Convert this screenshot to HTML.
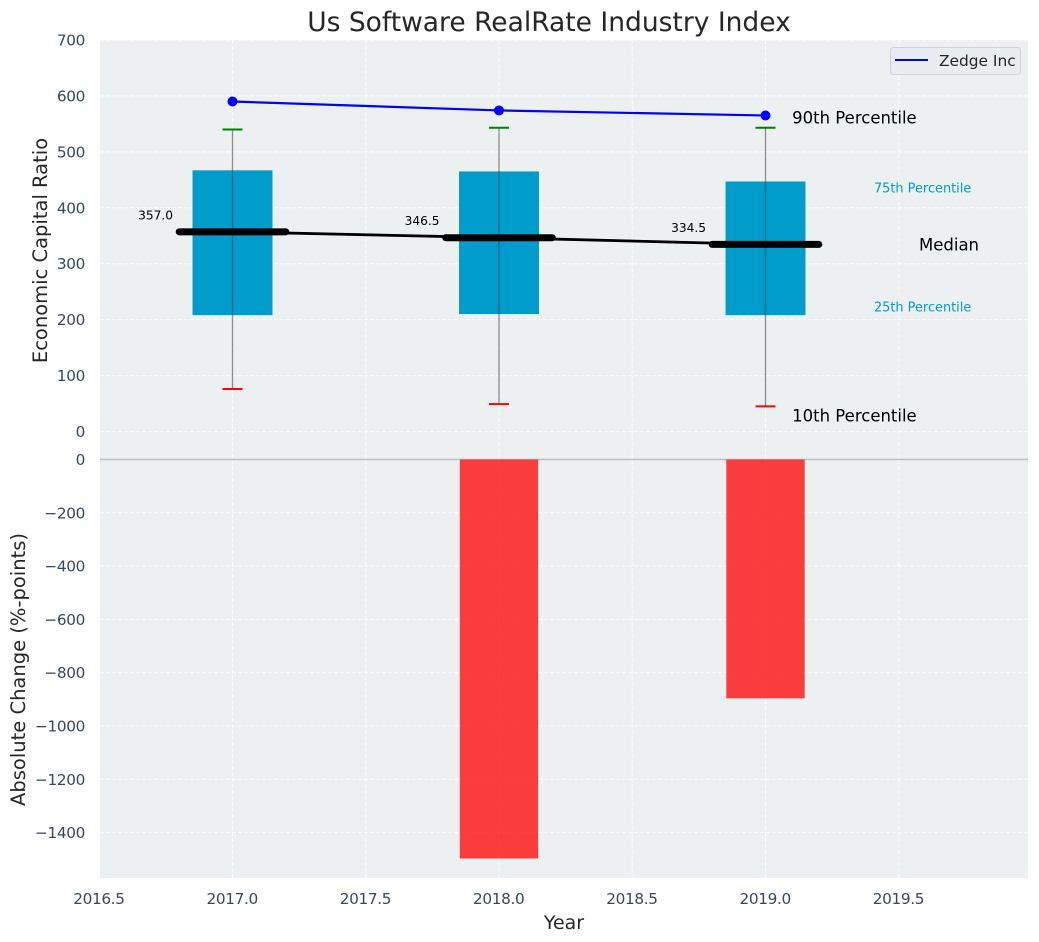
<!DOCTYPE html>
<html>
<head>
<meta charset="utf-8">
<title>Us Software RealRate Industry Index</title>
<style>
html,body{margin:0;padding:0;background:#fff;width:1039px;height:942px;overflow:hidden}
svg{display:block}
text{font-family:"DejaVu Sans","Liberation Sans",sans-serif}
.tick{letter-spacing:-0.35px}
</style>
</head>
<body>
<svg id="chart" width="1039" height="942" viewBox="0 0 1039 942" xmlns="http://www.w3.org/2000/svg"></svg>
<script>
const years = [2017, 2018, 2019];
const p90 = [540, 543, 543];
const p75 = [467, 465, 447];
const median = [357.0, 346.5, 334.5];
const p25 = [208, 210, 208];
const p10 = [76, 49, 45];
const company = [590, 574, 565];
const absoluteChange = [0, -1497, -896];
const xTicks = [2016.5, 2017, 2017.5, 2018, 2018.5, 2019, 2019.5];
const yTicksTop = [0, 100, 200, 300, 400, 500, 600, 700];
const yTicksBottom = [0, -200, -400, -600, -800, -1000, -1200, -1400];

const svg = document.getElementById('chart');
const NS = 'http://www.w3.org/2000/svg';
const X = v => 232.5 + (v - 2017) * 266.5;
const YT = v => 431.5 - v * 0.5593;
const YB = v => 459.5 - v * 0.2665;

function add(tag, attrs, name, txt) {
  const el = document.createElementNS(NS, tag);
  for (const k in attrs) el.setAttribute(k, attrs[k]);
  
  
  if (txt !== undefined) el.textContent = txt;
  svg.appendChild(el);
  return el;
}
const tickCol = '#34495e', darkCol = '#262626';
const fmtTick = v => String(v).replace('-', '\u2212');

add('rect', {x:100, y:40, width:928, height:838, fill:'#ecf0f1'}, 'plot-background');

yTicksTop.forEach(v => {
  add('line', {x1:100, x2:1028, y1:YT(v), y2:YT(v), stroke:'#fff', 'stroke-width':1, 'stroke-dasharray':'4 2', opacity:.85}, 'grid-line-top-y');
  add('text', {class:'tick', x:85, y:YT(v)+5.5, 'text-anchor':'end', 'font-size':15.3, fill:tickCol}, 'y-tick-top', fmtTick(v));
});
yTicksBottom.forEach(v => {
  if (v !== 0) add('line', {x1:100, x2:1028, y1:YB(v), y2:YB(v), stroke:'#fff', 'stroke-width':1, 'stroke-dasharray':'4 2', opacity:.85}, 'grid-line-bottom-y');
  add('text', {class:'tick', x:85, y:YB(v)+5.5, 'text-anchor':'end', 'font-size':15.3, fill:tickCol}, 'y-tick-bottom', fmtTick(v));
});
xTicks.forEach(v => {
  if (v > 2016.5) add('line', {x1:X(v), x2:X(v), y1:40, y2:878, stroke:'#fff', 'stroke-width':1, 'stroke-dasharray':'4 2', opacity:.85}, 'grid-line-x');
  add('text', {class:'tick', x:X(v)-0.3, y:904, 'text-anchor':'middle', 'font-size':15.3, fill:tickCol}, 'x-tick', v.toFixed(1));
});

add('line', {x1:100, x2:1028, y1:YB(0), y2:YB(0), stroke:'#bdbdbd', 'stroke-width':1.5}, 'zero-line');

/* lower panel bars */
years.forEach((y, i) => {
  const v = absoluteChange[i];
  add('rect', {x:X(y-0.147), y:YB(0), width:X(y+0.147)-X(y-0.147), height:YB(v)-YB(0), fill:'#ff0000', 'fill-opacity':.75}, 'change-bar-' + y);
});

/* interquartile boxes */
years.forEach((y, i) => {
  add('rect', {x:X(y-0.15), y:YT(p75[i]), width:X(y+0.15)-X(y-0.15), height:YT(p25[i])-YT(p75[i]), fill:'#009ccc'}, 'iqr-box-' + y);
});

/* whiskers and caps */
years.forEach((y, i) => {
  add('line', {x1:X(y), x2:X(y), y1:YT(p90[i]), y2:YT(p10[i]), stroke:'#2b3a42', 'stroke-opacity':.55, 'stroke-width':1.3}, 'whisker-' + y);
  add('line', {x1:X(y-0.0375), x2:X(y+0.0375), y1:YT(p90[i]), y2:YT(p90[i]), stroke:'#008000', 'stroke-width':2}, 'p90-cap-' + y);
  add('line', {x1:X(y-0.0375), x2:X(y+0.0375), y1:YT(p10[i]), y2:YT(p10[i]), stroke:'#ff0000', 'stroke-width':2}, 'p10-cap-' + y);
});

/* median line */
add('polyline', {points:years.map((y,i)=>X(y)+','+YT(median[i])).join(' '), fill:'none', stroke:'#000', 'stroke-width':2.8}, 'median-trend-line');
years.forEach((y, i) => {
  add('line', {x1:X(y-0.2), x2:X(y+0.2), y1:YT(median[i]), y2:YT(median[i]), stroke:'#000', 'stroke-width':7, 'stroke-linecap':'round'}, 'median-bar-' + y);
  add('text', {x:X(y)-59.5, y:YT(median[i])-12.5, 'text-anchor':'end', 'font-size':12.2, fill:'#000'}, 'median-value-' + y, median[i].toFixed(1));
});

/* company line */
add('polyline', {points:years.map((y,i)=>X(y)+','+YT(company[i])).join(' '), fill:'none', stroke:'#0000ff', 'stroke-width':2.2}, 'company-line');
years.forEach((y, i) => {
  add('circle', {cx:X(y), cy:YT(company[i]), r:5, fill:'#0000ff'}, 'company-point-' + y);
});

/* percentile annotations */
const last = years.length - 1;
add('text', {x:X(2019.1), y:YT(p90[last])-4.5, 'font-size':16.5, fill:'#000'}, 'label-90th-percentile', '90th Percentile');
add('text', {x:X(2019.407), y:YT(p75[last])+11, 'font-size':12.9, fill:'#009ccc'}, 'label-75th-percentile', '75th Percentile');
add('text', {x:X(2019.576), y:YT(median[last])+6, 'font-size':16.5, fill:'#000'}, 'label-median', 'Median');
add('text', {x:X(2019.407), y:YT(p25[last])-3.5, 'font-size':12.9, fill:'#009ccc'}, 'label-25th-percentile', '25th Percentile');
add('text', {x:X(2019.1), y:421.5, 'font-size':16.5, fill:'#000'}, 'label-10th-percentile', '10th Percentile');

/* legend */
add('rect', {x:890.5, y:47.5, width:130, height:27, rx:3, fill:'#e9ecf1', stroke:'#cfd2d6', 'stroke-width':1}, 'legend-box');
add('line', {x1:895, x2:928, y1:60, y2:60, stroke:'#0000ff', 'stroke-width':2}, 'legend-line');
add('text', {x:939, y:66, 'font-size':15.4, fill:darkCol}, 'legend-label', 'Zedge Inc');

/* titles */
add('text', {x:549, y:31, 'text-anchor':'middle', 'font-size':26.5, fill:darkCol}, 'chart-title', 'Us Software RealRate Industry Index');
add('text', {x:564, y:929, 'text-anchor':'middle', 'font-size':19, fill:darkCol}, 'x-axis-title', 'Year');
add('text', {x:0, y:0, 'text-anchor':'middle', 'font-size':19.5, fill:darkCol, transform:'translate(47,250.5) rotate(-90)'}, 'y-axis-title-top', 'Economic Capital Ratio');
add('text', {x:0, y:0, 'text-anchor':'middle', 'font-size':19.5, fill:darkCol, transform:'translate(25,669.5) rotate(-90)'}, 'y-axis-title-bottom', 'Absolute Change (%-points)');
</script>
</body>
</html>
